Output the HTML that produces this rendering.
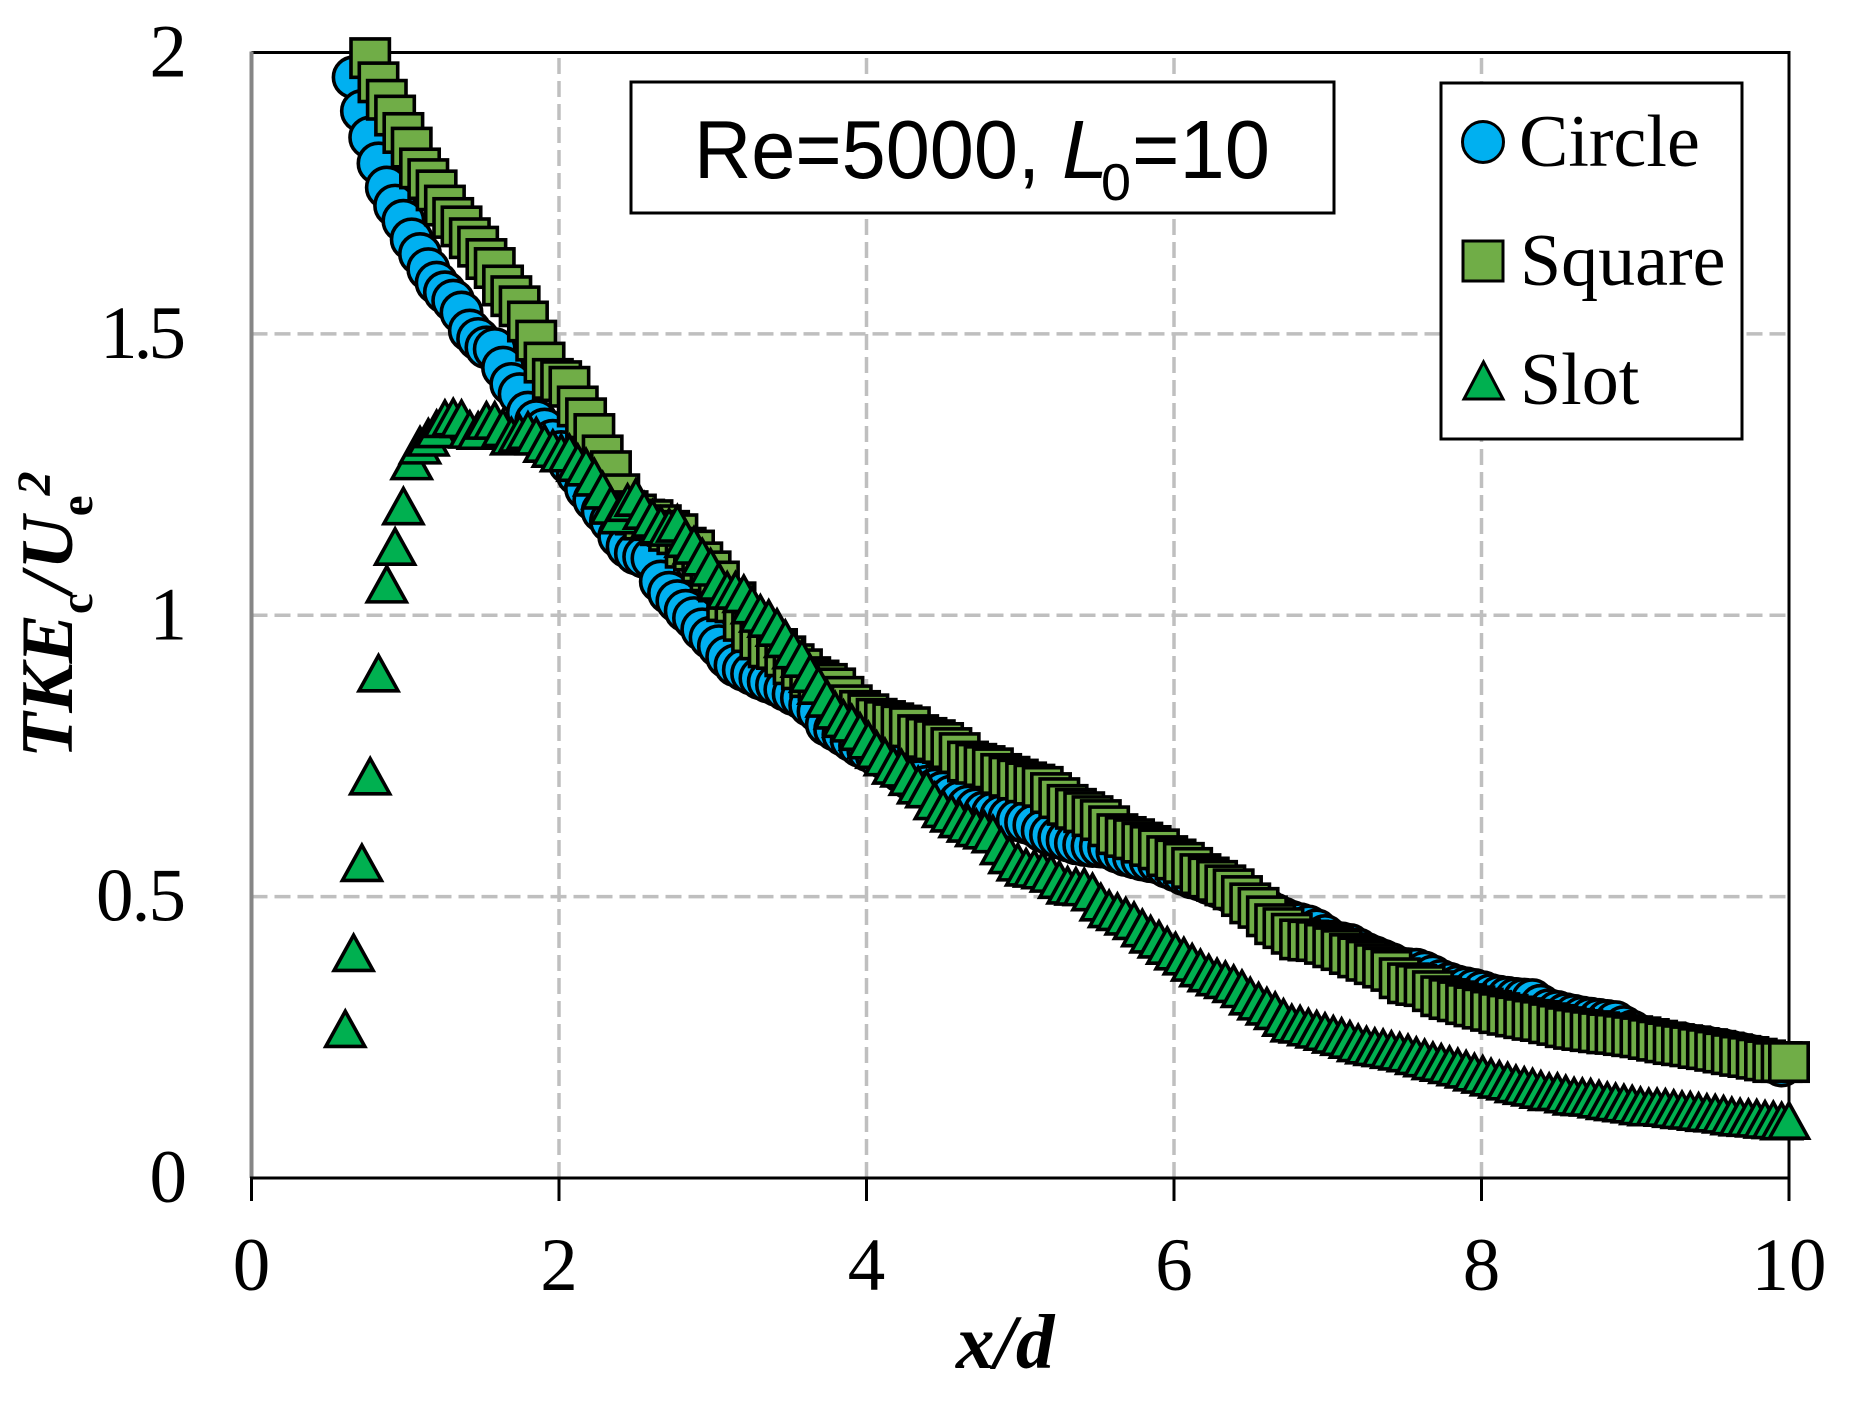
<!DOCTYPE html>
<html lang="en">
<head>
<meta charset="utf-8">
<title>TKE decay chart</title>
<style>
html,body{margin:0;padding:0;background:#fff;}
svg{display:block;font-family:"Liberation Serif",serif;}
</style>
</head>
<body>
<svg id="chart" xmlns="http://www.w3.org/2000/svg" width="1859" height="1401" viewBox="0 0 1859 1401">
  <rect x="0" y="0" width="1859" height="1401" fill="#fff"/>
  <g id="grid"></g>
  <g id="axes"></g>
  <g id="series"></g>
  <g>
    <rect x="631" y="82" width="703" height="131" fill="#fff" stroke="#000" stroke-width="3"/>
    <text x="694" y="178" font-family="Liberation Sans, sans-serif" font-size="83" textLength="346" lengthAdjust="spacingAndGlyphs">Re=5000,</text>
    <text x="1062" y="178" font-family="Liberation Sans, sans-serif" font-style="italic" font-size="83">L</text>
    <text x="1101" y="200" font-family="Liberation Sans, sans-serif" font-size="52" textLength="30" lengthAdjust="spacingAndGlyphs">0</text>
    <text x="1132" y="178" font-family="Liberation Sans, sans-serif" font-size="83" textLength="138" lengthAdjust="spacingAndGlyphs">=10</text>
  </g>
  <g>
    <rect x="1441" y="83" width="301" height="356" fill="#fff" stroke="#000" stroke-width="3"/>
    <circle cx="1483" cy="142" r="20.5" fill="#00b0f0" stroke="#000" stroke-width="3"/>
    <text x="1519" y="166" font-size="74">Circle</text>
    <rect x="1463" y="241" width="40" height="40" fill="#70ad47" stroke="#000" stroke-width="3"/>
    <text x="1520" y="285" font-size="74">Square</text>
    <path d="M1483.5 362 L1503 399 L1464 399 Z" fill="#00b050" stroke="#000" stroke-width="3"/>
    <text x="1520" y="404" font-size="74">Slot</text>
  </g>
  <text x="956" y="1368" font-size="77" font-weight="bold" font-style="italic">x/d</text>
  <text transform="translate(72 758) rotate(-90)" font-size="74" font-weight="bold" font-style="italic">TKE<tspan font-size="47" font-style="normal" dy="20">c</tspan><tspan dy="-20">/</tspan><tspan dx="3">U</tspan><tspan font-size="47" font-style="normal" dy="20">e</tspan><tspan font-size="48" dy="-42">2</tspan></text>
</svg>
<script>
const xValues = [
.61,.664,.718,.772,.826,.88,.934,.988,1.042,1.096,
1.15,1.204,1.258,1.312,1.366,1.42,1.474,1.528,1.582,1.636,
1.69,1.744,1.798,1.852,1.906,1.96,2.014,2.068,2.122,2.176,
2.23,2.284,2.338,2.392,2.446,2.5,2.554,2.608,2.662,2.716,
2.77,2.824,2.878,2.932,2.986,3.04,3.094,3.148,3.202,3.256,
3.31,3.364,3.418,3.472,3.526,3.58,3.634,3.688,3.742,3.796,
3.85,3.904,3.958,4.012,4.066,4.12,4.174,4.228,4.282,4.336,
4.39,4.444,4.498,4.552,4.606,4.66,4.714,4.768,4.822,4.876,
4.93,4.984,5.038,5.092,5.146,5.2,5.254,5.308,5.362,5.416,
5.47,5.524,5.578,5.632,5.686,5.74,5.794,5.848,5.902,5.956,
6.01,6.064,6.118,6.172,6.226,6.28,6.334,6.388,6.442,6.496,
6.55,6.604,6.658,6.712,6.766,6.82,6.874,6.928,6.982,7.036,
7.09,7.144,7.198,7.252,7.306,7.36,7.414,7.468,7.522,7.576,
7.63,7.684,7.738,7.792,7.846,7.9,7.954,8.008,8.062,8.116,
8.17,8.224,8.278,8.332,8.386,8.44,8.494,8.548,8.602,8.656,
8.71,8.764,8.818,8.872,8.926,8.98,9.034,9.088,9.142,9.196,
9.25,9.304,9.358,9.412,9.466,9.52,9.574,9.628,9.682,9.736,
9.79,9.844,9.898,9.952,10.0];

const circleValues = [
null,1.956,1.896,1.849,1.803,1.76,1.728,1.701,1.668,1.642,
1.615,1.591,1.574,1.559,1.538,1.506,1.491,1.476,1.473,1.44,
1.411,1.393,1.36,1.345,1.33,1.31,1.29,1.27,1.25,1.225,
1.205,1.185,1.167,1.14,1.122,1.11,1.104,1.101,1.06,1.04,
1.025,1.008,.995,.975,.96,.945,.926,.911,.903,.896,
.888,.882,.876,.868,.86,.853,.84,.829,.806,.797,
.788,.778,.768,.76,.752,.746,.735,.722,.71,.705,
.695,.69,.685,.678,.668,.66,.655,.65,.648,.643,
.64,.636,.632,.627,.617,.61,.605,.6,.595,.592,
.59,.589,.587,.58,.574,.57,.566,.563,.56,.553,
.547,.54,.534,.53,.524,.518,.512,.505,.498,.49,
.483,.476,.468,.461,.455,.451,.447,.44,.43,.42,
.417,.414,.406,.398,.392,.386,.38,.373,.371,.37,
.365,.358,.35,.345,.34,.337,.334,.33,.325,.322,
.32,.318,.317,.316,.306,.298,.295,.291,.288,.285,
.283,.281,.279,.277,.268,.26,.252,.248,.245,.243,
.24,.239,.236,.234,.232,.229,.227,.224,.221,.218,
.215,.211,.206,.2,null];

const squareValues = [
null,null,null,1.99,1.947,1.916,1.888,1.857,1.831,1.794,
1.775,1.755,1.728,1.706,1.691,1.67,1.655,1.633,1.617,1.586,
1.567,1.549,1.522,1.488,1.449,1.42,1.416,1.406,1.371,1.35,
1.322,1.284,1.256,1.215,1.185,1.179,1.17,1.169,1.16,1.15,
1.144,1.12,1.115,1.094,1.078,1.06,1.025,1.023,.99,.97,
.957,.943,.94,.927,.913,.904,.89,.884,.878,.87,
.855,.84,.83,.824,.816,.812,.808,.804,.801,.787,
.782,.778,.773,.764,.755,.74,.736,.732,.728,.718,
.713,.708,.703,.699,.695,.684,.675,.663,.656,.65,
.643,.636,.625,.611,.606,.602,.596,.59,.584,.572,
.566,.56,.551,.54,.534,.528,.52,.513,.501,.488,
.48,.465,.451,.444,.434,.424,.422,.421,.416,.41,
.405,.398,.392,.386,.38,.374,.368,.355,.346,.343,
.341,.332,.323,.318,.314,.309,.305,.301,.297,.293,
.29,.287,.284,.281,.279,.275,.272,.268,.265,.263,
.261,.259,.257,.256,.254,.252,.25,.247,.244,.241,
.238,.236,.234,.231,.229,.226,.223,.22,.217,.215,
.212,.209,.206,.206,.206];

const slotValues = [
.267,.402,.562,.716,.899,1.057,1.124,1.196,1.276,1.304,
1.318,1.333,1.351,1.354,1.351,1.332,1.33,1.348,1.348,1.335,
1.32,1.325,1.33,1.32,1.307,1.298,1.29,1.29,1.273,1.265,
1.247,1.224,1.197,1.18,1.202,1.211,1.188,1.174,1.162,1.158,
1.165,1.138,1.126,1.105,1.087,1.062,1.046,1.046,1.04,1.02,
1.005,.996,.98,.96,.94,.925,.898,.877,.854,.833,
.818,.81,.795,.78,.763,.75,.735,.73,.715,.70,
.693,.672,.658,.65,.64,.632,.624,.62,.613,.592,
.576,.563,.554,.552,.549,.543,.532,.522,.52,.519,
.51,.492,.48,.475,.467,.459,.446,.435,.426,.415,
.405,.396,.385,.375,.366,.359,.354,.347,.338,.325,
.316,.307,.299,.287,.277,.275,.27,.266,.262,.257,
.253,.248,.242,.238,.235,.233,.23,.227,.224,.219,
.215,.21,.207,.203,.199,.195,.19,.186,.181,.177,
.174,.169,.166,.163,.159,.155,.155,.151,.147,.146,
.145,.142,.139,.137,.135,.133,.13,.128,.128,.127,
.125,.123,.122,.12,.118,.117,.115,.112,.11,.109,
.108,.106,.105,.103,.104];

const xTicks = [0,2,4,6,8,10];
const yTicks = [0,0.5,1,1.5,2];
const yTickLabels = ["0","0.5","1","1.5","2"];

const NS = "http://www.w3.org/2000/svg";
function xScale(v){ return 251.5 + (v/10)*1537.5; }
function yScale(v){ return 1178 - (v/2)*1125.5; }
function mk(tag, attrs, parent){
  const el = document.createElementNS(NS, tag);
  for (const k in attrs) el.setAttribute(k, attrs[k]);
  parent.appendChild(el);
  return el;
}
const grid = document.getElementById("grid");
const axes = document.getElementById("axes");
const seriesRoot = document.getElementById("series");

xTicks.forEach(function(t){
  if (t === 0 || t === 10) return;
  const l = mk("line", {x1:xScale(t), x2:xScale(t), y1:yScale(0), y2:yScale(2), stroke:"#bfbfbf", "stroke-width":3.5, "stroke-dasharray":"16 7"}, grid);
  
  
});
yTicks.forEach(function(t){
  if (t === 0 || t === 2) return;
  const l = mk("line", {x1:xScale(0), x2:xScale(10), y1:yScale(t), y2:yScale(t), stroke:"#bfbfbf", "stroke-width":3.5, "stroke-dasharray":"16 7"}, grid);
  
  
});

const topLine = mk("line", {x1:xScale(0), x2:xScale(10)+1.5, y1:yScale(2), y2:yScale(2), stroke:"#000", "stroke-width":3}, axes);


const rightLine = mk("line", {x1:xScale(10), x2:xScale(10), y1:yScale(2), y2:yScale(0), stroke:"#000", "stroke-width":3}, axes);


const yAxis = mk("line", {x1:xScale(0), x2:xScale(0), y1:yScale(2)-1, y2:yScale(0), stroke:"#868686", "stroke-width":4}, axes);


const xAxis = mk("line", {x1:xScale(0)-1.5, x2:xScale(10)+1.5, y1:yScale(0), y2:yScale(0), stroke:"#000", "stroke-width":3}, axes);



xTicks.forEach(function(t){
  const tick = mk("line", {x1:xScale(t), x2:xScale(t), y1:yScale(0), y2:yScale(0)+23, stroke:"#000", "stroke-width":3}, axes);
  
  
  const lab = mk("text", {x:xScale(t), y:1290, "text-anchor":"middle", "font-size":75}, axes);
  lab.textContent = String(t);
  
  
});
yTicks.forEach(function(t,i){
  const label = yTickLabels[i];
  const lab = mk("text", {x:label.length > 1 ? 186 : 187, y:yScale(t)+24, "text-anchor":"end", "font-size":75}, axes);
  if (label === "1.5") { lab.setAttribute("textLength", 86); lab.setAttribute("lengthAdjust", "spacing"); }
  if (label === "0.5") { lab.setAttribute("textLength", 90); lab.setAttribute("lengthAdjust", "spacing"); }
  lab.textContent = label;
  
  
});

const circleGroup = mk("g", {fill:"#00b0f0", stroke:"#000", "stroke-width":3.6}, seriesRoot);


const squareGroup = mk("g", {fill:"#70ad47", stroke:"#000", "stroke-width":3.6}, seriesRoot);


const slotGroup = mk("g", {fill:"#00b050", stroke:"#000", "stroke-width":3.6}, seriesRoot);



xValues.forEach(function(xv,i){
  if (circleValues[i] === null || circleValues[i] === undefined) return;
  const m = mk("circle", {cx:xScale(xv), cy:yScale(circleValues[i]), r:20.2}, circleGroup);
  
  
});
xValues.forEach(function(xv,i){
  if (squareValues[i] === null || squareValues[i] === undefined) return;
  const m = mk("rect", {x:xScale(xv)-19.2, y:yScale(squareValues[i])-19.2, width:38.4, height:38.4}, squareGroup);
  
  
});
xValues.forEach(function(xv,i){
  if (slotValues[i] === null || slotValues[i] === undefined) return;
  const cx = xScale(xv), cy = yScale(slotValues[i]);
  const m = mk("path", {d:"M"+cx+" "+(cy-16.5)+" L"+(cx+19.5)+" "+(cy+18.7)+" L"+(cx-19.5)+" "+(cy+18.7)+" Z"}, slotGroup);
  
  
});
</script>
</body>
</html>
